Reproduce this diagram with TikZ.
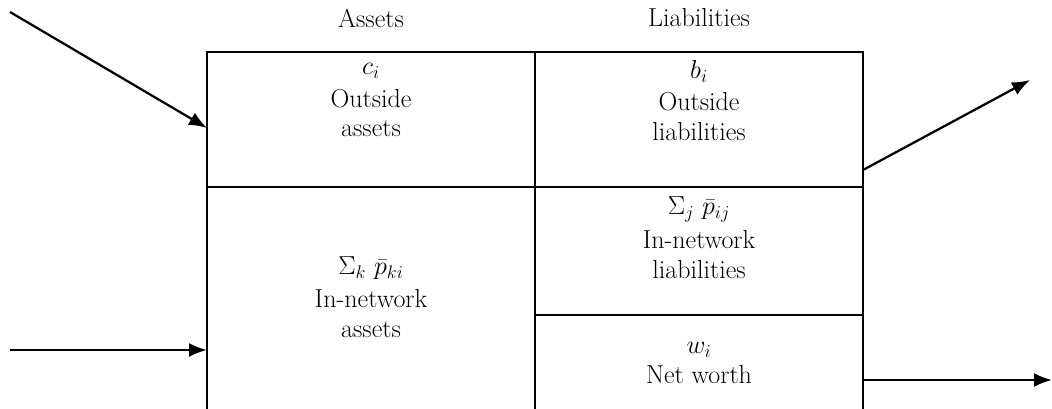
\documentclass[tikz,border=0pt]{standalone}
\usepackage{amsmath,amssymb}
\usepackage{fix-cm}
\usetikzlibrary{arrows.meta}

\begin{document}
\begin{tikzpicture}[font=\fontsize{18.5}{21}\selectfont, >={Latex[length=4.5mm,width=3.5mm]},
frame/.style={line width=1.2pt},
flow/.style={->, line width=1.6pt},
cell/.style={align=center, inner sep=2pt},
heading/.style={align=center, inner sep=2pt}]
\useasboundingbox (0,0) rectangle (26.3,10.225);
% balance sheet frame (open at the bottom)
\draw[frame] (5.175,0) -- (5.175,8.925) -- (21.575,8.925) -- (21.575,0);
\draw[frame] (13.375,0) -- (13.375,8.925);
\draw[frame] (5.175,5.55) -- (21.575,5.55);
\draw[frame] (13.375,2.35) -- (21.575,2.35);
\node[heading] (assets) at (9.275,9.775) {Assets};
\node[heading] (liab) at (17.475,9.775) {Liabilities};
\node[cell] (outA) at (9.275,7.72) {$c_i$\\[2pt]Outside\\assets};
\node[cell] (outL) at (17.475,7.72) {$b_i$\\[2pt]Outside\\liabilities};
\node[cell] (netA) at (9.275,2.8) {$\Sigma_k\ \bar{p}_{ki}$\\[3pt]In-network\\assets};
\node[cell] (netL) at (17.475,4.28) {$\Sigma_j\ \bar{p}_{ij}$\\[3pt]In-network\\liabilities};
\node[cell] (worth) at (17.475,1.15) {$w_i$\\Net worth};
% flows in and out
\coordinate (srcA) at (0.25,9.925); \coordinate (dstA) at (5.175,7.025);
\coordinate (srcB) at (0.25,1.475); \coordinate (dstB) at (5.175,1.475);
\coordinate (srcC) at (21.575,5.975); \coordinate (dstC) at (25.75,8.225);
\coordinate (srcD) at (21.575,0.725); \coordinate (dstD) at (26.3,0.725);
\draw[flow] (srcA) -- (dstA); \draw[flow] (srcB) -- (dstB);
\draw[flow] (srcC) -- (dstC); \draw[flow] (srcD) -- (dstD);
\end{tikzpicture}
\end{document}
